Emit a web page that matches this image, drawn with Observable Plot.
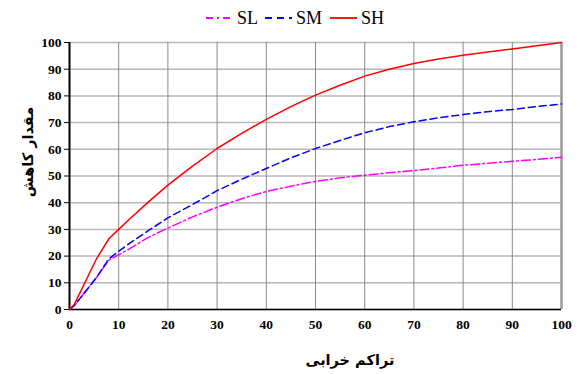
<!DOCTYPE html>
<html>
<head>
<meta charset="utf-8">
<script src="https://cdn.jsdelivr.net/npm/d3@7"></script>
<script src="https://cdn.jsdelivr.net/npm/@observablehq/plot@0.6"></script>
<style>
  html, body { margin: 0; padding: 0; background: #fff; }
  #wrap { position: relative; width: 579px; height: 374px; font-family: "Liberation Serif", "Times New Roman", serif; }
  #chart { position: absolute; left: 0; top: 0; }
  .ttl { position: absolute; font-family: "DejaVu Sans", sans-serif; font-weight: bold; font-size: 14.5px; color: #000; white-space: nowrap; }
  #legend { position: absolute; left: 0; top: 0; }
</style>
</head>
<body>
<div id="wrap">
  <div id="chart"></div>
  <svg id="legend" width="579" height="36"></svg>
  <div class="ttl" id="xtitle" dir="rtl">تراکم خرابی</div>
  <div class="ttl" id="ytitle" dir="rtl">مقدار کاهش</div>
</div>
<script>
const xs = [0, 1, 5.5, 8, 10, 12, 16, 20, 25, 30, 35, 40, 45, 50, 55, 60, 65, 70, 75, 80, 85, 90, 95, 100];
const SL = [0, 1.5, 12, 18.5, 20.5, 22.5, 27, 30.5, 34.7, 38.3, 41.5, 44.2, 46.2, 48, 49.3, 50.3, 51.2, 52, 53, 54, 54.8, 55.5, 56.2, 57];
const SM = [0, 1.5, 12, 19, 21.8, 24.5, 29.5, 34.3, 39.3, 44.5, 48.8, 52.8, 56.8, 60.3, 63.3, 66.2, 68.5, 70.3, 71.8, 73, 74.1, 74.9, 76, 77];
const SH = [0, 2, 19, 26.5, 30, 33.5, 40.2, 46.6, 53.7, 60.3, 66, 71.2, 76, 80.3, 84, 87.4, 90, 92.1, 93.8, 95.2, 96.4, 97.6, 98.8, 100];
const seriesNames = ["SL", "SM", "SH"];
const seriesColors = ["#ff00ff", "#0000ff", "#ff0000"];
const seriesDash = ["9,3,2,3", "7,4", null];
const ticks = [0, 10, 20, 30, 40, 50, 60, 70, 80, 90, 100];

const seriesVals = [SL, SM, SH];
const data = seriesNames.flatMap((s, i) => xs.map((x, j) => ({series: s, x, y: seriesVals[i][j]})));

const chart = Plot.plot({
  width: 579,
  height: 374,
  marginLeft: 69,
  marginRight: 18,
  marginTop: 42,
  marginBottom: 65,
  style: {fontFamily: "'Liberation Serif', 'Times New Roman', serif", fontSize: "13px", background: "transparent"},
  x: {domain: [0, 100], ticks: ticks},
  y: {domain: [0, 100], ticks: ticks},
  marks: [
    Plot.gridY(ticks, {stroke: "#b8b8b8", strokeWidth: 1.5, strokeOpacity: 1}),
    Plot.gridX(ticks, {stroke: "#8a8a8a", strokeWidth: 1, strokeOpacity: 1}),
    Plot.ruleX([100], {stroke: "#9a9a9a", strokeWidth: 2.5}),
    Plot.ruleY([0], {stroke: "#000", strokeWidth: 1.5}),
    Plot.ruleX([0], {stroke: "#000", strokeWidth: 2}),
    Plot.axisY(ticks, {tickSize: 5, tickPadding: 3, fontWeight: "bold", fontSize: 13.5, label: null, stroke: "#000"}),
    Plot.axisX(ticks, {tickSize: 0, tickPadding: 10, fontWeight: "bold", fontSize: 13.5, label: null}),
    ...seriesNames.map((s, i) => Plot.line(data.filter(d => d.series === s), {
      x: "x", y: "y", stroke: seriesColors[i], strokeWidth: 1.5,
      strokeDasharray: seriesDash[i], curve: "linear"
    }))
  ]
});
document.getElementById("chart").appendChild(chart);

// legend
const lg = d3.select("#legend");
const legendX = [206, 265, 330];
seriesNames.forEach((s, i) => {
  lg.append("line").attr("x1", legendX[i]).attr("x2", legendX[i] + 27).attr("y1", 18).attr("y2", 18)
    .attr("stroke", seriesColors[i]).attr("stroke-width", 1.8)
    .attr("stroke-dasharray", seriesDash[i] ? (i === 0 ? "7,4,2,4" : "7,5") : null);
  lg.append("text").attr("x", legendX[i] + 31).attr("y", 24).text(s)
    .attr("font-family", "'Liberation Serif', 'Times New Roman', serif").attr("font-size", 18).attr("fill", "#000");
});

const xt = document.getElementById("xtitle");
xt.style.left = (350 - xt.offsetWidth / 2) + "px";
xt.style.top = (360 - xt.offsetHeight / 2) + "px";
const yt = document.getElementById("ytitle");
yt.style.left = (28 - yt.offsetWidth / 2) + "px";
yt.style.top = (152 - yt.offsetHeight / 2) + "px";
yt.style.transform = "rotate(-90deg)";
</script>
</body>
</html>
